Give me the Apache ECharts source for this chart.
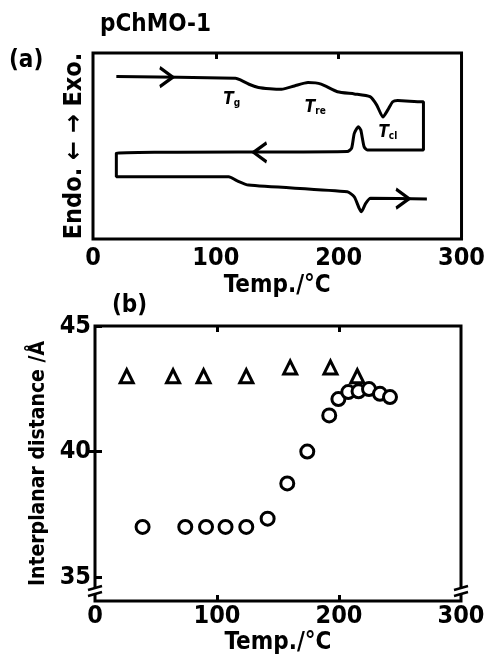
<!DOCTYPE html>
<html><head><meta charset="utf-8">
<script src="https://cdn.jsdelivr.net/npm/echarts@6/dist/echarts.min.js"></script>
<style>html,body{margin:0;padding:0;background:#fff}#c{width:488px;height:656px}</style>
</head><body><div id="c"></div>
<script>
// ---- Panel (a): DSC trace (temperature °C, relative heat flow, arbitrary units) ----
const dscTemp = [19, 116, 120, 127, 134.7, 144, 153.5, 164, 175, 185.7, 199, 212.7, 225.5, 231, 236, 240, 244, 248, 267.7, 269,
                 269, 223.4, 220.7, 218, 216, 212.7, 210.5, 207, 19,
                 19, 110.5, 117, 126.6, 207, 212.7, 216.7, 218.5, 222, 226, 271.8];
const dscSignal = [87.3, 86.4, 85.5, 83.2, 81.5, 80.8, 80.5, 82.3, 84.1, 83.3, 79.2, 78, 76.5, 72, 65.6, 69.4, 73.8, 74.4, 73.8, 73.8,
                   47.8, 47.8, 49.6, 58.6, 60.4, 56.8, 48.8, 47, 46.1,
                   33.5, 33.5, 31.4, 29, 25.4, 22.7, 16.5, 14.7, 19.2, 21.9, 21.5];
const arrowTemp = [59.7, 136, 252];
const arrowSignal = [87.0, 46.6, 21.7];
const arrowAngle = [0, 180, 0];
const transLabels = [['g', 113, 74.7], ['re', 181, 70.4], ['cl', 240, 57]];

// ---- Panel (b): interplanar distance vs temperature ----
const triTemp = [26, 64, 89, 124, 160, 193, 215];
const triDist = [43.0, 43.0, 43.0, 43.0, 43.35, 43.35, 43.0];
const circTemp = [39, 74, 91, 107, 124, 141.5, 157.6, 174, 192, 199.5, 207.6, 216, 224.6, 233.6, 241.8];
const circDist = [37.0, 37.0, 37.0, 37.0, 37.0, 37.33, 38.73, 40.0, 41.44, 42.09, 42.37, 42.4, 42.49, 42.3, 42.17];

const xTicks = [0, 100, 200, 300];
const yTicksB = [35, 40, 45];

const FONT = "'DejaVu Sans Condensed','DejaVu Sans',sans-serif";
const chart = echarts.init(document.getElementById('c'));

const tickLbl = {fontFamily: FONT, fontWeight: 'bold', fontSize: 25, color: '#000'};
const nameStyle = {fontFamily: FONT, fontWeight: 'bold', fontSize: 24, color: '#000'};

const option = {
  animation: false,
  backgroundColor: '#fff',
  grid: [
    {left: 93, top: 53, width: 372, height: 186, show: true, borderColor: '#000', borderWidth: 3, backgroundColor: 'transparent'},
    {left: 95, top: 326, width: 366, height: 276, show: true, borderColor: '#000', borderWidth: 3, backgroundColor: 'transparent'}
  ],
  xAxis: [
    {gridIndex: 0, type: 'value', min: 0, max: 300, interval: 100, position: 'bottom',
     axisLine: {show: false}, splitLine: {show: false}, axisTick: {show: false},
     axisLabel: {customValues: xTicks, margin: 7, ...tickLbl},
     name: 'Temp./°C', nameLocation: 'middle', nameGap: 35, nameTextStyle: nameStyle},
    {gridIndex: 0, type: 'value', min: 0, max: 300, position: 'top',
     axisLine: {show: false}, splitLine: {show: false}, axisLabel: {show: false},
     axisTick: {show: true, inside: true, length: 6, customValues: [100, 200], lineStyle: {width: 3, color: '#000'}}},
    {gridIndex: 1, type: 'value', min: 0, max: 300, interval: 100, position: 'bottom',
     axisLine: {show: false}, splitLine: {show: false},
     axisTick: {show: true, inside: true, length: 6, customValues: [100, 200], lineStyle: {width: 3, color: '#000'}},
     axisLabel: {customValues: xTicks, margin: 3, ...tickLbl},
     name: 'Temp./°C', nameLocation: 'middle', nameGap: 30, nameTextStyle: nameStyle},
    {gridIndex: 1, type: 'value', min: 0, max: 300, position: 'top',
     axisLine: {show: false}, splitLine: {show: false}, axisLabel: {show: false},
     axisTick: {show: true, inside: true, length: 6, customValues: [100, 200], lineStyle: {width: 3, color: '#000'}}}
  ],
  yAxis: [
    {gridIndex: 0, type: 'value', min: 0, max: 100, axisLine: {show: false}, splitLine: {show: false},
     axisTick: {show: false}, axisLabel: {show: false},
     name: 'Endo. ← → Exo.', nameLocation: 'middle', nameRotate: 90, nameGap: 6,
     nameTextStyle: {fontFamily: FONT, fontWeight: 'bold', fontSize: 25, color: '#000'}},
    {gridIndex: 1, type: 'value', min: 34.05, max: 45, axisLine: {show: false}, splitLine: {show: false},
     axisTick: {show: true, inside: true, length: 7, customValues: yTicksB, lineStyle: {width: 3, color: '#000'}},
     axisLabel: {customValues: yTicksB, margin: 4, ...tickLbl},
     name: 'Interplanar distance /Å', nameLocation: 'middle', nameRotate: 90, nameGap: 44,
     nameTextStyle: {fontFamily: FONT, fontWeight: 'bold', fontSize: 21, color: '#000'}},
    {gridIndex: 1, type: 'value', min: 34.05, max: 45, position: 'right', axisLine: {show: false}, splitLine: {show: false},
     axisTick: {show: true, inside: true, length: 7, customValues: [40], lineStyle: {width: 3, color: '#000'}},
     axisLabel: {show: false}}
  ],
  series: [
    {type: 'line', xAxisIndex: 0, yAxisIndex: 0, data: dscTemp.map((t, i) => [t, dscSignal[i]]),
     showSymbol: false, smooth: 0.2, lineStyle: {color: '#000', width: 3}, silent: true,
     markPoint: {symbol: 'circle', symbolSize: 0,
       data: transLabels.map(l => ({coord: [l[1], l[2]], value: l[0]})),
       label: {show: true, formatter: p => '{t|T}{s|' + p.value + '}',
         rich: {t: {fontFamily: FONT, fontStyle: 'italic', fontWeight: 'bold', fontSize: 17, color: '#000'},
                s: {fontFamily: FONT, fontWeight: 'bold', fontSize: 10, color: '#000', verticalAlign: 'bottom', padding: [6, 0, 0, 0]}}}}},
    {type: 'scatter', xAxisIndex: 0, yAxisIndex: 0, data: arrowTemp.map((t, i) => ({value: [t, arrowSignal[i]], symbolRotate: arrowAngle[i]})),
     symbol: 'path://M0,0 L10,10 L0,20', symbolSize: [13, 19],
     itemStyle: {color: 'none', borderColor: '#000', borderWidth: 3, opacity: 1}, silent: true},
    {type: 'scatter', xAxisIndex: 2, yAxisIndex: 1, data: triTemp.map((t, i) => [t, triDist[i]]),
     symbol: 'triangle', symbolSize: 13, itemStyle: {color: '#fff', borderColor: '#000', borderWidth: 3, opacity: 1}, silent: true},
    {type: 'scatter', xAxisIndex: 2, yAxisIndex: 1, data: circTemp.map((t, i) => [t, circDist[i]]),
     symbol: 'circle', symbolSize: 13, itemStyle: {color: '#fff', borderColor: '#000', borderWidth: 3, opacity: 1}, silent: true}
  ],
  graphic: [
    {type: 'text', left: 100, top: 13, style: {text: 'pChMO-1', fontFamily: FONT, fontWeight: 'bold', fontSize: 24, fill: '#000'}},
    {type: 'text', left: 9, top: 49, style: {text: '(a)', fontFamily: FONT, fontWeight: 'bold', fontSize: 24, fill: '#000'}},
    {type: 'text', left: 112, top: 294, style: {text: '(b)', fontFamily: FONT, fontWeight: 'bold', fontSize: 24, fill: '#000'}}
  ]
};
chart.setOption(option);

// axis-break marks on the left and right axes of panel (b)
const p1 = chart.convertToPixel({xAxisIndex: 2, yAxisIndex: 1}, [0, 34.45]);
const p2 = chart.convertToPixel({xAxisIndex: 2, yAxisIndex: 1}, [300, 34.45]);
const brk = [];
[p1, p2].forEach(p => {
  brk.push({type: 'rect', shape: {x: p[0] - 4, y: p[1] - 3, width: 8, height: 6}, style: {fill: '#fff'}, z: 100});
  brk.push({type: 'line', shape: {x1: p[0] - 7, y1: p[1] - 1, x2: p[0] + 7, y2: p[1] - 5}, style: {stroke: '#000', lineWidth: 2.5}, z: 101});
  brk.push({type: 'line', shape: {x1: p[0] - 7, y1: p[1] + 5, x2: p[0] + 7, y2: p[1] + 1}, style: {stroke: '#000', lineWidth: 2.5}, z: 101});
});
chart.setOption({graphic: option.graphic.concat(brk)});
</script></body></html>
